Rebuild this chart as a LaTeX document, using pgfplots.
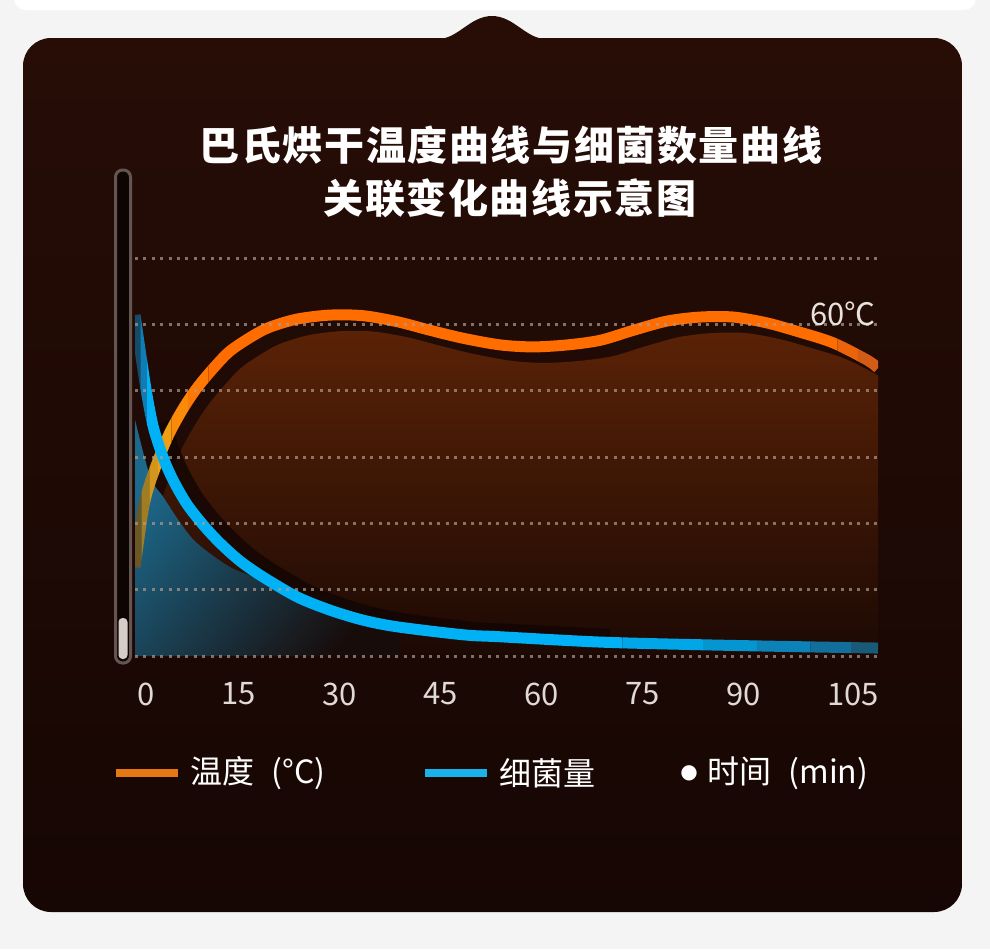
\documentclass[border=0pt]{standalone}
\usepackage{fontspec}
\usepackage{pgfplots}
\usepackage{pgfplotstable}
\pgfplotsset{compat=1.18}
\newfontfamily\cjk{Noto Sans CJK SC}
\newfontfamily\cjktitle{Noto Sans CJK SC}[LetterSpace=4]
\newfontfamily\dejavu{DejaVu Sans}
\definecolor{bgout}{RGB}{244,244,244}
\definecolor{paneltop}{RGB}{39,13,6}
\definecolor{panelbot}{RGB}{22,6,4}
\definecolor{gridc}{RGB}{175,155,145}
\definecolor{ticklab}{RGB}{225,217,213}
\definecolor{ofilltop}{RGB}{90,34,6}
\definecolor{ofillmid}{RGB}{52,19,5}
\definecolor{ofillbot}{RGB}{25,8,4}
\definecolor{bfill}{RGB}{28,105,140}
\definecolor{bfilldark}{RGB}{24,12,10}
\definecolor{shadowc}{RGB}{20,6,3}
\definecolor{o1}{RGB}{105,88,38}
\definecolor{o2}{RGB}{160,125,35}
\definecolor{o3}{RGB}{210,150,28}
\definecolor{o4}{RGB}{240,158,18}
\definecolor{o5}{RGB}{250,138,8}
\definecolor{o6}{RGB}{255,120,3}
\definecolor{o7}{RGB}{255,108,0}
\definecolor{o8}{RGB}{235,100,12}
\definecolor{o9}{RGB}{210,92,22}
\definecolor{b1}{RGB}{20,75,105}
\definecolor{b2}{RGB}{15,125,180}
\definecolor{b3}{RGB}{0,178,245}
\definecolor{b4}{RGB}{0,166,232}
\definecolor{b5}{RGB}{5,150,210}
\definecolor{b6}{RGB}{12,130,185}
\definecolor{b7}{RGB}{18,110,155}
\definecolor{b8}{RGB}{25,90,120}
\definecolor{legor}{RGB}{230,120,20}
\definecolor{legbl}{RGB}{25,178,235}
\definecolor{tubeedge}{RGB}{100,85,80}
\definecolor{tubein}{RGB}{14,4,2}
\definecolor{tubewhite}{RGB}{215,205,200}
\definecolor{label60}{RGB}{232,226,222}
% temperature curve (time in min, height in grid steps)
\pgfplotstableread{
x y
-0.4 1.34
0.86 2.23
1.86 2.62
3.34 3.03
4.83 3.38
6.81 3.74
8.80 4.04
11.26 4.34
13.75 4.60
17.16 4.83
19.69 4.96
23.71 5.08
28.62 5.14
33.52 5.13
38.57 5.04
43.47 4.91
48.37 4.79
53.87 4.69
58.78 4.66
63.83 4.69
68.74 4.76
73.64 4.91
78.69 5.05
83.60 5.11
88.50 5.11
93.56 5.02
98.46 4.88
103.37 4.72
108.42 4.46
110 4.34
}\temptab
% bacteria curve
\pgfplotstableread{
x y
-0.4 5.14
0.62 4.43
1.37 3.94
2.35 3.44
3.83 2.98
5.32 2.64
7.31 2.29
9.78 1.97
12.26 1.70
15.23 1.43
18.65 1.19
23.71 0.89
28.62 0.69
33.52 0.54
38.57 0.44
48.37 0.32
53.87 0.29
68.74 0.21
83.60 0.17
98.46 0.14
110 0.12
}\bactab
% bacteria shaded area edge
\pgfplotstableread{
x y
-0.4 3.56
1.86 2.70
3.79 2.40
6.32 2.01
8.84 1.70
13.75 1.34
18.65 1.15
24.15 0.96
31.58 0.80
39.0 0.66
}\bacfill
\newcommand\band[4]{\begin{scope}\clip (axis cs:#1,-1) rectangle (axis cs:#2,7);
\addplot[#3, line width=5.5pt, smooth] table {#4};\end{scope}}
\begin{document}
\begin{tikzpicture}
\begin{scope}[x=0.5pt,y=-0.5pt]
\useasboundingbox (0,0) rectangle (990,949);
\fill[bgout] (0,0) rectangle (990,949);
\fill[white, rounded corners=6pt] (14,-40) rectangle (976,10);
\shade[top color=paneltop, bottom color=panelbot, rounded corners=14pt] (23,38) rectangle (962,912);
\fill[paneltop] (438,39) .. controls (458,39) and (470,16) .. (492,16) .. controls (514,16) and (526,39) .. (546,39) -- cycle;
% title
\node[text=white, font=\cjktitle\bfseries\fontsize{20}{24}\selectfont] at (511,145) {巴氏烘干温度曲线与细菌数量曲线};
\node[text=white, font=\cjktitle\bfseries\fontsize{20}{24}\selectfont] at (510,198) {关联变化曲线示意图};
% thermometer
\draw[draw=tubeedge, line width=1.5pt, fill=tubein, rounded corners=3.5pt] (115.5,170) rectangle (130.5,663);
\fill[tubewhite, rounded corners=2pt] (118.5,618) rectangle (127.5,659);
\end{scope}

\begin{axis}[
  at={(67.5pt,-328pt)}, anchor=south west,
  scale only axis, width=371.5pt, height=199pt,
  xmin=-0.4, xmax=110, ymin=0, ymax=6,
  axis line style={draw=none},
  major tick length=0pt,
  xtick={0,15,30,45,60,75,90,105},
  xticklabels={\phantom{0}0,15,30,45,60,75,90,\phantom{0}105},
  xticklabel style={font=\cjk\fontsize{15.5}{17}\selectfont, text=ticklab, anchor=center, yshift=-19pt},
  ytick={0,1,2,3,4,5,6}, yticklabels={},
  ymajorgrids,
  major grid style={gridc, line width=1.5pt, dash pattern=on 1.5pt off 2.7pt, opacity=0.7},
  axis on top,
]
% orange area (shifted under the line)
\addplot[draw=none, top color=ofilltop, middle color=ofillmid, bottom color=ofillbot, xshift=6pt, yshift=-8pt, smooth] table {\temptab} \closedcycle;
% blue area
\addplot[draw=none, top color=bfill, bottom color=bfilldark, shading angle=50, smooth] table {\bacfill} \closedcycle;
% blue shadow
\addplot[shadowc, line width=7pt, opacity=0.85, smooth, xshift=5pt, yshift=3pt, restrict x to domain=2:70] table {\bactab};
% temperature line in colour bands
\band{-1}{0.6}{o1}{\temptab}
\band{0.6}{1.8}{o2}{\temptab}
\band{1.8}{3.0}{o3}{\temptab}
\band{3.0}{5.0}{o4}{\temptab}
\band{5.0}{7.5}{o5}{\temptab}
\band{7.5}{10.5}{o6}{\temptab}
\band{10.5}{104}{o7}{\temptab}
\band{104}{107}{o8}{\temptab}
\band{107}{111}{o9}{\temptab}
% bacteria line in colour bands
\band{-1}{0.4}{b1}{\bactab}
\band{0.4}{1.4}{b2}{\bactab}
\band{1.4}{72}{b3}{\bactab}
\band{72}{84}{b4}{\bactab}
\band{84}{92}{b5}{\bactab}
\band{92}{100}{b6}{\bactab}
\band{100}{106}{b7}{\bactab}
\band{106}{111}{b8}{\bactab}
\end{axis}

\begin{scope}[x=0.5pt,y=-0.5pt]
\node[text=label60, font=\cjk\fontsize{15.5}{18}\selectfont] at (843,314) {60℃};
% legend
\draw[legor, line width=4pt] (116,773) -- (178,773);
\node[anchor=west, text=white, inner sep=0pt, font=\cjk\fontsize{16}{19}\selectfont] at (190,773) {温度\hspace{5pt} (°C)};
\draw[legbl, line width=4pt] (425,773) -- (487,773);
\node[anchor=west, text=white, inner sep=0pt, font=\cjk\fontsize{16}{19}\selectfont] at (499,773) {细菌量};
\node[text=white, inner sep=0pt, font=\dejavu\fontsize{10}{12}\selectfont] at (689,773) {●};
\node[anchor=west, text=white, inner sep=0pt, font=\cjk\fontsize{16}{19}\selectfont] at (707,773) {时间\hspace{5pt} (min)};
\end{scope}
\end{tikzpicture}
\end{document}
